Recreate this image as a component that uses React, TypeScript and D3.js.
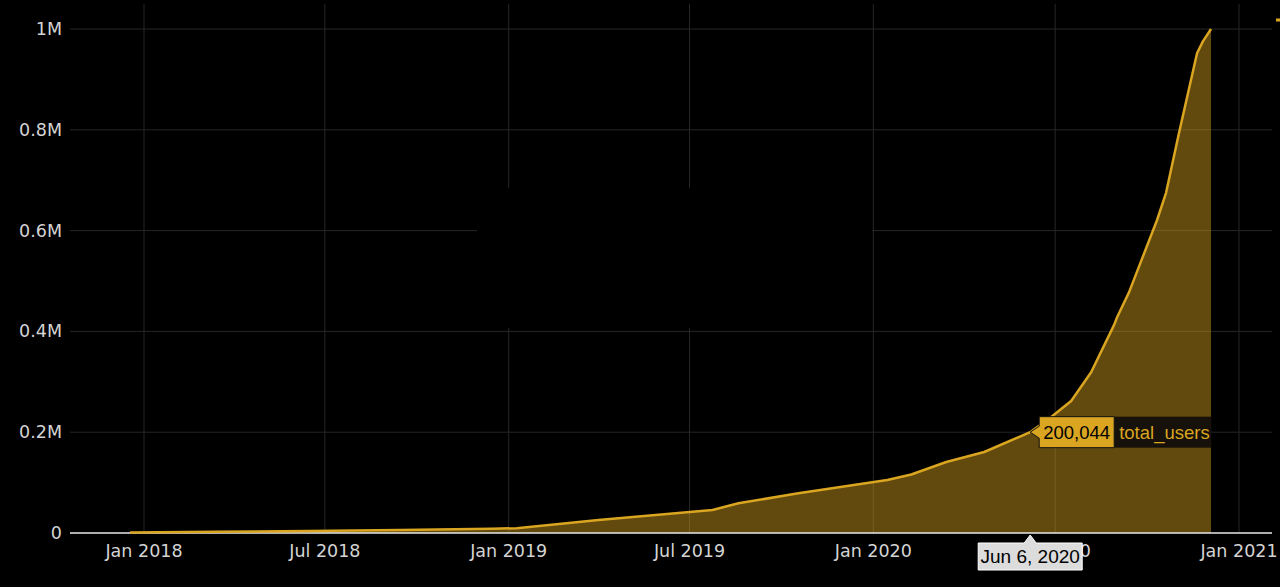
import React from "react";
import * as d3 from "d3";

const dates: string[] = [
  "2017-12-18", "2018-03-15", "2018-06-15", "2018-09-15", "2018-12-15", "2019-01-09",
  "2019-04-01", "2019-07-24", "2019-08-19", "2019-10-18", "2020-01-15", "2020-02-08",
  "2020-03-14", "2020-04-21", "2020-06-06", "2020-06-27", "2020-07-17", "2020-08-06",
  "2020-08-29", "2020-09-01", "2020-09-13", "2020-10-11", "2020-10-20", "2020-11-02",
  "2020-11-20", "2020-11-26", "2020-12-04",
];
const totalUsers: number[] = [
  1200, 2500, 4000, 6000, 8500, 9500,
  25800, 45600, 59000, 78700, 105000, 116000,
  140900, 160700, 200044, 230000, 262000, 319000,
  413000, 428000, 478000, 621000, 675000, 794000,
  952000, 976000, 1000000,
];

const xTickDates: string[] = ["2018-01-01", "2018-07-01", "2019-01-01", "2019-07-01", "2020-01-01", "2020-07-01", "2021-01-01"];
const xTickLabels: string[] = ["Jan 2018", "Jul 2018", "Jan 2019", "Jul 2019", "Jan 2020", "Jul 2020", "Jan 2021"];
const yTicks: number[] = [0, 200000, 400000, 600000, 800000, 1000000];
const yTickLabels: string[] = ["0", "0.2M", "0.4M", "0.6M", "0.8M", "1M"];

const seriesName = "total_users";
const hoverDate = "2020-06-06";
const hoverValue = 200044;
const hoverDateLabel = "Jun 6, 2020";

const W = 1280;
const H = 587;
const plotLeft = 70;
const plotRight = 1272;
const gold = "#DAA520";
const tickFont = "'DejaVu Sans', Verdana, sans-serif";
const hoverFont = "'Liberation Sans', Arial, sans-serif";

const parse = d3.utcParse("%Y-%m-%d");

export default function App() {
  React.useEffect(() => {
    document.body.style.margin = "0";
    document.body.style.background = "#000";
  }, []);

  const x = d3.scaleUtc()
    .domain([parse("2018-01-01")!, parse("2021-01-01")!])
    .range([144, 1239]);
  const y = d3.scaleLinear().domain([0, 1000000]).range([533, 29]);
  const plotTop = y(1050000);

  const data = dates.map((d, i) => ({ date: parse(d)!, value: totalUsers[i] }));
  const line = d3.line<{ date: Date; value: number }>()
    .x((d) => x(d.date))
    .y((d) => y(d.value));
  const area = d3.area<{ date: Date; value: number }>()
    .x((d) => x(d.date))
    .y0(y(0))
    .y1((d) => y(d.value));

  const hx = x(parse(hoverDate)!);
  const hy = y(hoverValue);
  const boxW = 75;
  const boxH = 31;
  const arrow = 9;
  const boxPath = `M${hx},${hy} L${hx + arrow},${hy - 6} V${hy - boxH / 2} H${hx + arrow + boxW} V${hy + boxH / 2} H${hx + arrow} V${hy + 6} Z`;
  const nameW = 97;

  const xbW = 104;
  const xbTop = y(0) + 10;
  const xbH = 27;
  const xbPath = `M${hx},${y(0) + 2} L${hx + 6},${xbTop} H${hx + xbW / 2} V${xbTop + xbH} H${hx - xbW / 2} V${xbTop} H${hx - 6} Z`;

  return (
    <svg width={W} height={H} style={{ position: "absolute", left: 0, top: 0, background: "#000", display: "block" }}>
      <rect x={0} y={0} width={W} height={H} fill="#000" />
      <g>
        {xTickDates.map((d) => (
          <line key={d} x1={x(parse(d)!)} x2={x(parse(d)!)} y1={plotTop} y2={y(0)} stroke="#262626" strokeWidth={1} />
        ))}
        {yTicks.slice(1).map((v) => (
          <line key={v} x1={plotLeft} x2={plotRight} y1={y(v)} y2={y(v)} stroke="#262626" strokeWidth={1} />
        ))}
      </g>
      <rect x={477} y={188} width={395} height={140} fill="#000" />
      <path d={area(data) || ""} fill={gold} fillOpacity={0.45} />
      <line x1={plotLeft} x2={plotRight} y1={y(0)} y2={y(0)} stroke="#e8e8e8" strokeWidth={1.5} />
      <path d={line(data) || ""} fill="none" stroke={gold} strokeWidth={2.5} strokeLinejoin="round" />
      <g fontFamily={tickFont} fontSize={17.5} fill="#d4d4d4">
        {xTickDates.map((d, i) => (
          <text key={d} x={x(parse(d)!)} y={y(0) + 24} textAnchor="middle">{xTickLabels[i]}</text>
        ))}
        {yTicks.map((v, i) => (
          <text key={v} x={62} y={y(v) + 6} textAnchor="end">{yTickLabels[i]}</text>
        ))}
      </g>
      <line x1={1276} x2={1280} y1={20} y2={20} stroke={gold} strokeWidth={3} />
      {/* hover label */}
      <rect x={hx + arrow + boxW} y={hy - boxH / 2} width={nameW} height={boxH} fill="#16110a" />
      <path d={boxPath} fill={gold} stroke="#111" strokeWidth={1} />
      <text x={hx + arrow + 4} y={hy + 7} fontFamily={hoverFont} fontSize={18.5} fill="#000">
        {d3.format(",")(hoverValue)}
      </text>
      <text x={hx + arrow + boxW + 5} y={hy + 7} fontFamily={hoverFont} fontSize={18.5} fill={gold}>
        {seriesName}
      </text>
      <path d={xbPath} fill="#dcdcdc" stroke="#fff" strokeWidth={1} />
      <text x={hx} y={xbTop + 20} textAnchor="middle" fontFamily={hoverFont} fontSize={19} fill="#000">
        {hoverDateLabel}
      </text>
    </svg>
  );
}
